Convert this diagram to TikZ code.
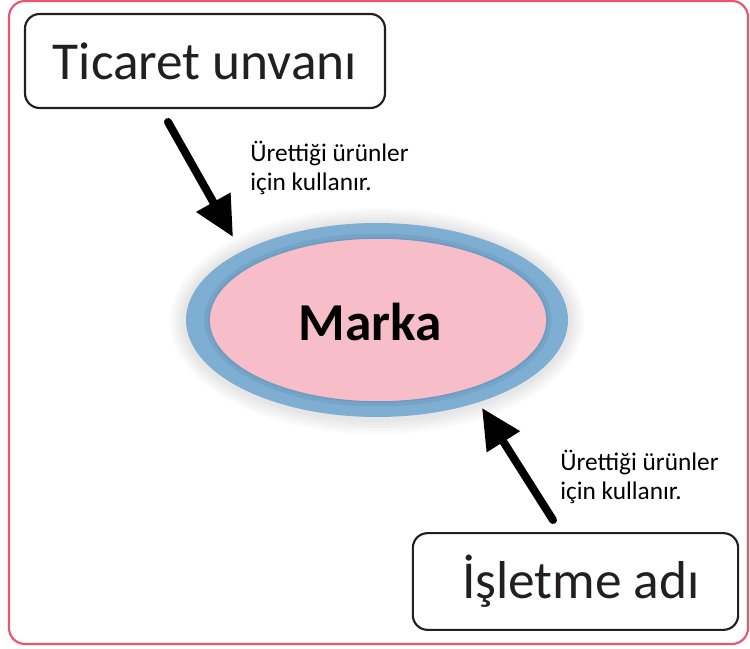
\documentclass[tikz,border=0pt]{standalone}
\usepackage{fontspec}
\setmainfont{Carlito}
\usetikzlibrary{arrows.meta}
\definecolor{frame}{HTML}{E8566F}
\definecolor{ringblue}{HTML}{7EAFD3}
\definecolor{ringdark}{HTML}{6E9BC0}
\definecolor{markpink}{HTML}{F7BDC8}
\definecolor{boxline}{HTML}{231F20}
\tikzset{
  labelbox/.style={draw=boxline, line width=1.6pt, rounded corners=11pt, fill=white,
    font=\fontsize{40}{48}\selectfont, text=boxline, inner sep=0pt},
  note/.style={font=\fontsize{19}{21.75}\selectfont, align=left, anchor=north west, inner sep=0pt, text=black},
  bigarrow/.style={line width=6pt, line cap=round, -{Triangle[length=30pt,width=28pt]}}
}
\begin{document}
\begin{tikzpicture}[x=0.75pt,y=-0.75pt]
\useasboundingbox (0,0) rectangle (750,649);
% frame
\draw[frame, line width=1.6pt, rounded corners=12pt] (9,1) rectangle (748,644);
% soft glow around the ellipse
\foreach \g in {16,13,10,7,4}
  \fill[black, opacity=0.018] (377,321) ellipse [x radius=191+\g, y radius=97+\g];
% ellipse
\fill[ringblue] (377,320) ellipse [x radius=191, y radius=97];
\draw[ringdark, line width=4pt, opacity=0.5] (378,320) ellipse [x radius=171, y radius=84];
\fill[markpink, draw=ringdark, line width=1.2pt] (378,320) ellipse [x radius=169, y radius=82];
\node[font=\bfseries\fontsize{40}{46}\selectfont, text=black] (marka) at (370,322) {Marka};
% boxes
\node[labelbox, minimum width=270pt, minimum height=70.5pt] (ticaret) at (205,61) {Ticaret unvanı};
\node[labelbox, minimum width=244pt, minimum height=72.5pt] (isletme) at (575.5,581.5) {\hspace{8pt}İşletme adı};
% arrows
\coordinate (a1s) at (168,122);
\coordinate (a1e) at (233,237);
\coordinate (a2s) at (553,520);
\coordinate (a2e) at (482,408);
\draw[bigarrow] (a1s) -- (a1e);
\draw[bigarrow] (a2s) -- (a2e);
% notes
\node[note] (n1) at (250,141) {Ürettiği ürünler\\için kullanır.};
\node[note] (n2) at (560,450) {Ürettiği ürünler\\için kullanır.};
\end{tikzpicture}
\end{document}
